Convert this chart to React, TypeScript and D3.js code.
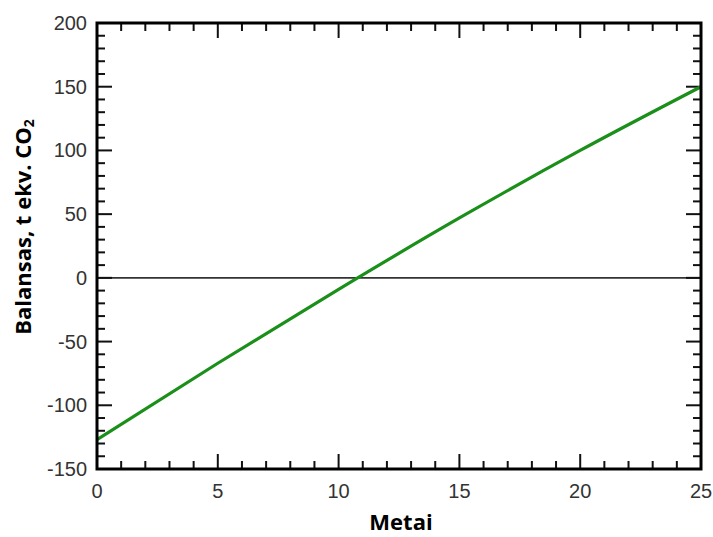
import React from "react";
import * as d3 from "d3";

const years = [0, 5, 10, 15, 20, 25];
const balance = [-127, -67, -9, 47, 100, 150];
const xTicks = [0, 5, 10, 15, 20, 25];
const yTicks = [-150, -100, -50, 0, 50, 100, 150, 200];

export default function App() {
  const W = 713, H = 537;
  const L = 97, R = 701, T = 23, B = 469;
  const x = d3.scaleLinear().domain([0, 25]).range([L, R]);
  const y = d3.scaleLinear().domain([-150, 200]).range([B, T]);
  const line = d3.line<number>().x((_, i) => x(years[i])).y((d) => y(d)).curve(d3.curveMonotoneX);
  const xMinor = d3.range(0, 26, 1);
  const yMinor = d3.range(-150, 201, 10);
  const font = "Liberation Sans, Arial, sans-serif";
  return (
    <svg width={W} height={H} style={{ position: "absolute", left: 0, top: 0, background: "#fff" }}>
      <rect x={0} y={0} width={W} height={H} fill="#fff" />
      <line x1={L} x2={R} y1={y(0)} y2={y(0)} stroke="#333" strokeWidth={1.6} />
      {xMinor.map((v) => {
        const major = v % 5 === 0;
        const len = major ? 15 : 8;
        return (
          <g key={"xt" + v}>
            <line x1={x(v)} x2={x(v)} y1={B} y2={B - len} stroke="#111" strokeWidth={2} />
            <line x1={x(v)} x2={x(v)} y1={T} y2={T + len} stroke="#111" strokeWidth={2} />
          </g>
        );
      })}
      {yMinor.map((v) => {
        const major = v % 50 === 0;
        const len = major ? 15 : 8;
        return (
          <g key={"yt" + v}>
            <line x1={L} x2={L + len} y1={y(v)} y2={y(v)} stroke="#111" strokeWidth={2} />
            <line x1={R} x2={R - len} y1={y(v)} y2={y(v)} stroke="#111" strokeWidth={2} />
          </g>
        );
      })}
      <path d={line(balance) || ""} fill="none" stroke="#1a8f1a" strokeWidth={3.2} />
      <rect x={L} y={T} width={R - L} height={B - T} fill="none" stroke="#000" strokeWidth={3} />
      {xTicks.map((v) => (
        <text key={"xl" + v} x={x(v)} y={498} textAnchor="middle" fontFamily={font} fontSize={20} fill="#333">
          {v}
        </text>
      ))}
      {yTicks.map((v) => (
        <text key={"yl" + v} x={87} y={y(v) + 7} textAnchor="end" fontFamily={font} fontSize={20} fill="#333">
          {v}
        </text>
      ))}
      <text x={(L + R) / 2 + 2} y={530} textAnchor="middle" fontFamily="Open Sans, sans-serif" fontWeight="bold" fontSize={22} fill="#000">
        Metai
      </text>
      <text
        transform={`translate(31,227) rotate(-90)`}
        textAnchor="middle"
        fontFamily="Open Sans, sans-serif"
        fontWeight="bold"
        fontSize={22}
        fill="#000"
      >
        Balansas, t ekv. CO
        <tspan fontSize={14} dy={3}>2</tspan>
      </text>
    </svg>
  );
}
